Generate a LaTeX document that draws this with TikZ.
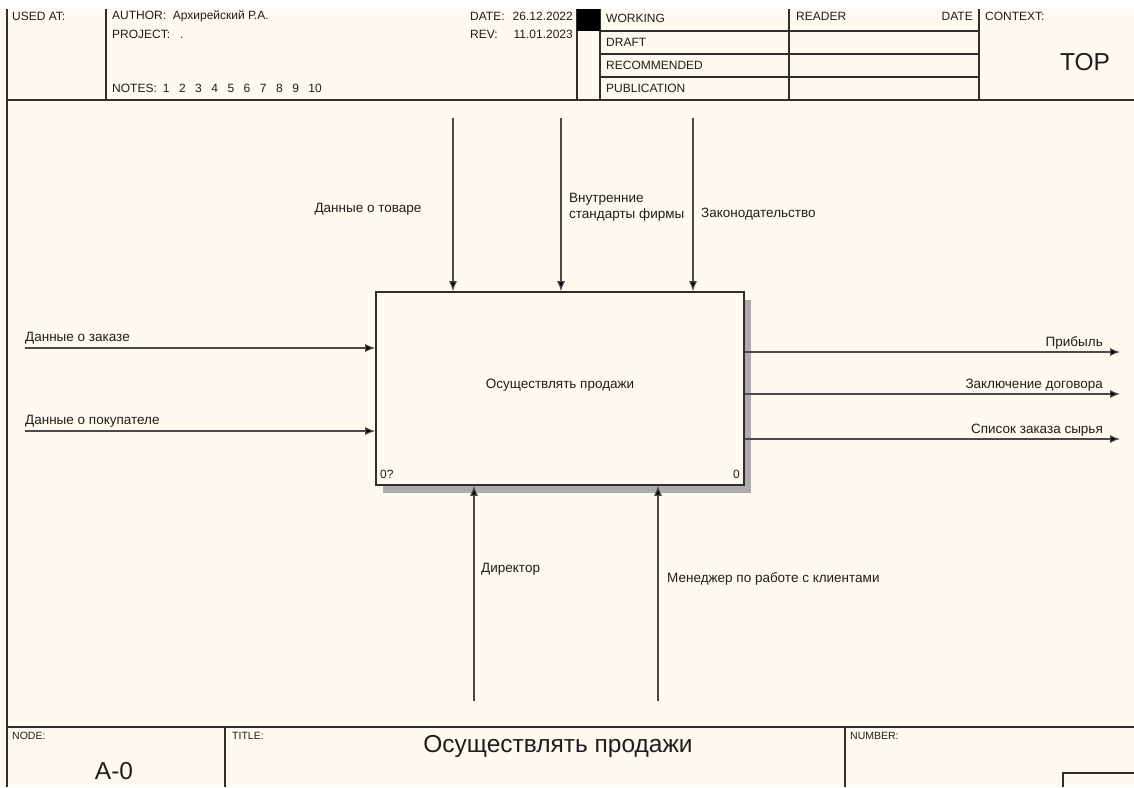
\documentclass[tikz,border=0pt]{standalone}
\usepackage{fontspec}
\setmainfont{Liberation Sans}
\usetikzlibrary{arrows.meta,positioning,shadows}
\definecolor{idefbg}{HTML}{FEFAF0}
\definecolor{idefline}{HTML}{2E2E2E}
\definecolor{idefink}{HTML}{1E1E1E}
\definecolor{idefarrow}{HTML}{4A4A4A}
\newcommand\idefsmall{\fontsize{13.5}{16}\selectfont}
\newcommand\idefhead{\fontsize{12}{14}\selectfont}
\newcommand\ideftiny{\fontsize{10.5}{12}\selectfont}
\newcommand\idefcorner{\fontsize{12}{14}\selectfont}
\newcommand\idefbig{\fontsize{24.5}{28}\selectfont}
\tikzset{
  func/.style={draw=idefline, line width=1.6pt, fill=idefbg, minimum width=368pt, minimum height=193pt,
    inner sep=0pt, font=\idefsmall, text=idefink,
    drop shadow={shadow xshift=7pt, shadow yshift=-8pt, fill=gray!65, opacity=1}},
  lbl/.style={inner sep=0pt, font=\idefsmall, text=idefink},
  corner/.style={inner sep=0pt, font=\idefcorner, text=idefink},
  hdr/.style={inner sep=0pt, font=\idefhead, text=idefink, anchor=west},
  tiny/.style={inner sep=0pt, font=\ideftiny, text=idefink, anchor=west},
  big/.style={inner sep=0pt, font=\idefbig, text=idefink},
  arr/.style={-{Latex[length=10pt,width=8pt,fill=black]}, line width=1.1pt, draw=idefarrow},
  frame/.style={line width=1.1pt, draw=idefline}
}
\begin{document}
\begin{tikzpicture}[x=1pt, y=-1pt]
\useasboundingbox (0,0) rectangle (1134,787);
\fill[white] (0,0) rectangle (1134,787);
\fill[idefbg] (0,9) rectangle (1134,787);

% header frame
\draw[frame] (7,9) -- (7,787);
\draw[frame] (7,100) -- (1134,100);
\foreach \x in {106,577,600,789,979} \draw[frame] (\x,9) -- (\x,100);
\foreach \y in {31,54,77} \draw[frame] (600,\y) -- (979,\y);
\fill[black] (577,9) rectangle (600,31);

% header texts
\node[hdr] (usedat) at (12,16) {USED AT:};
\node[hdr] (author) at (112,16) {AUTHOR:\ \ Архирейский Р.А.};
\node[hdr] (project) at (112,34) {PROJECT:\ \ \ .};
\node[hdr] (notes) at (112,88) {NOTES:\hspace{6pt}1\hspace{9.5pt}2\hspace{9.5pt}3\hspace{9.5pt}4\hspace{9.5pt}5\hspace{9.5pt}6\hspace{9.5pt}7\hspace{9.5pt}8\hspace{9.5pt}9\hspace{9.5pt}10};
\node[hdr] (datelbl) at (470,16) {DATE:};
\node[hdr, anchor=east] (dateval) at (573,16) {26.12.2022};
\node[hdr] (revlbl) at (470,34) {REV:};
\node[hdr, anchor=east] (revval) at (573,34) {11.01.2023};
\node[hdr] (working) at (606,18) {WORKING};
\node[hdr] (draft) at (606,42) {DRAFT};
\node[hdr] (recommended) at (606,65) {RECOMMENDED};
\node[hdr] (publication) at (606,88) {PUBLICATION};
\node[hdr] (reader) at (796,16) {READER};
\node[hdr, anchor=east] (rdate) at (973,16) {DATE};
\node[hdr] (context) at (985,16) {CONTEXT:};
\node[big] (top) at (1085,62) {TOP};

% function box
\node[func] (func) at (560,388.5) {\raisebox{9pt}{Осуществлять продажи}};
\node[corner, anchor=west] (num) at (380,474) {0?};
\node[corner, anchor=east] (cost) at (740,474) {0};

% controls
\coordinate (c1) at (453,118);
\coordinate (c2) at (561,118);
\coordinate (c3) at (693,118);
\draw[arr] (c1) -- (c1 |- func.north);
\draw[arr] (c2) -- (c2 |- func.north);
\draw[arr] (c3) -- (c3 |- func.north);
\node[lbl] (goods) at (368,209) {Данные о товаре};
\node[lbl, anchor=west, align=left] (stand) at (569,207) {Внутренние\\стандарты фирмы};
\node[lbl, anchor=west] (laws) at (701,214) {Законодательство};

% inputs
\coordinate (i1) at (25,348);
\coordinate (i2) at (25,431);
\draw[arr] (i1) -- (i1 -| func.west);
\draw[arr] (i2) -- (i2 -| func.west);
\node[lbl, anchor=west] (order) at (25,338) {Данные о заказе};
\node[lbl, anchor=west] (buyer) at (25,421) {Данные о покупателе};

% outputs
\coordinate (o1) at (1120,352);
\coordinate (o2) at (1120,394);
\coordinate (o3) at (1120,439);
\draw[arr] (o1 -| func.east) -- (o1);
\draw[arr] (o2 -| func.east) -- (o2);
\draw[arr] (o3 -| func.east) -- (o3);
\node[lbl, anchor=east] (profit) at (1103,343) {Прибыль};
\node[lbl, anchor=east] (contract) at (1103,385) {Заключение договора};
\node[lbl, anchor=east] (stock) at (1103,430) {Список заказа сырья};

% mechanisms
\coordinate (m1) at (474,701);
\coordinate (m2) at (658,701);
\draw[arr] (m1) -- (m1 |- func.south);
\draw[arr] (m2) -- (m2 |- func.south);
\node[lbl, anchor=west] (boss) at (481,569) {Директор};
\node[lbl, anchor=west] (manager) at (667,579) {Менеджер по работе с клиентами};

% footer
\draw[frame] (7,727) -- (1134,727);
\foreach \x in {225,845} \draw[frame] (\x,727) -- (\x,787);
\draw[frame] (1063,787) -- (1063,773) -- (1134,773);
\node[tiny] (nodelbl) at (12,736) {NODE:};
\node[big] (nodeval) at (114,771) {A-0};
\node[tiny] (titlelbl) at (232,736) {TITLE:};
\node[big] (titleval) at (558,746) {Осуществлять продажи};
\node[tiny] (numlbl) at (850,736) {NUMBER:};
\end{tikzpicture}
\end{document}
